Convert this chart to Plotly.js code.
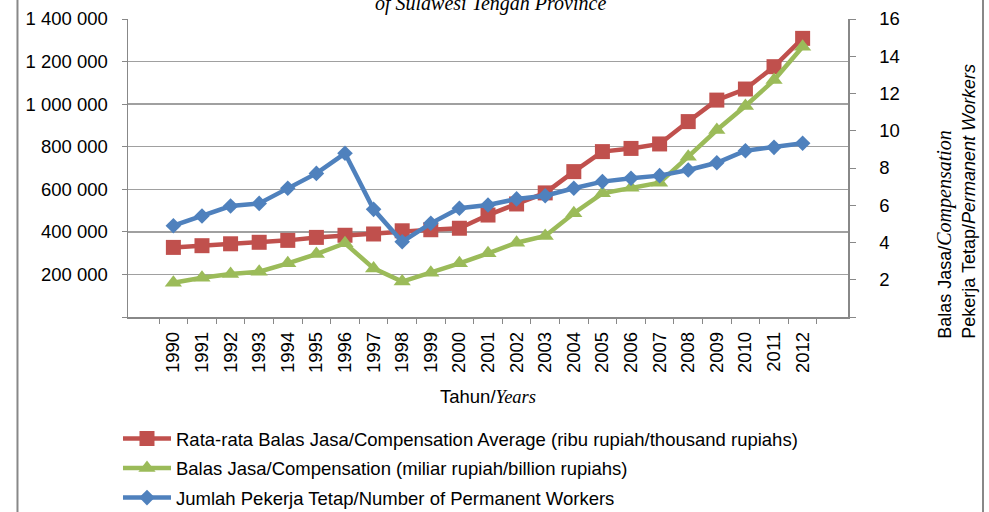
<!DOCTYPE html>
<html><head><meta charset="utf-8">
<script src="https://cdn.plot.ly/plotly-3.0.1.min.js"></script>
<style>html,body{margin:0;padding:0;background:#fff}#chart{width:989px;height:512px}</style>
</head><body><div id="chart"></div>
<script>
const years = ['1990','1991','1992','1993','1994','1995','1996','1997','1998','1999','2000','2001','2002','2003','2004','2005','2006','2007','2008','2009','2010','2011','2012'];
// Rata-rata Balas Jasa (ribu rupiah) - left axis
const avgComp = [327000,335000,344000,351000,360000,374000,384000,390000,405000,410000,417000,479000,531000,583000,683000,777000,792000,813000,918000,1019000,1071000,1176000,1309000];
// Balas Jasa (miliar rupiah) - right axis
const totalComp = [1.84,2.11,2.31,2.43,2.88,3.38,3.96,2.61,1.90,2.38,2.88,3.42,3.99,4.35,5.57,6.64,6.94,7.21,8.61,10.04,11.33,12.72,14.51];
// Jumlah Pekerja Tetap - right axis
const workers = [4.90,5.42,5.96,6.10,6.91,7.71,8.79,5.78,4.04,5.03,5.84,6.01,6.34,6.51,6.91,7.27,7.45,7.59,7.89,8.28,8.93,9.11,9.33];

const leftTickVals = [0,200000,400000,600000,800000,1000000,1200000,1400000];
const leftTickText = ['','200 000','400 000','600 000','800 000','1 000 000','1 200 000','1 400 000'];
const rightTickVals = [0,2,4,6,8,10,12,14,16];
const rightTickText = ['','2','4','6','8','10','12','14','16'];

const names = [
  'Rata-rata Balas Jasa/Compensation Average (ribu rupiah/thousand rupiahs)',
  'Balas Jasa/Compensation (miliar rupiah/billion rupiahs)',
  'Jumlah Pekerja Tetap/Number of Permanent Workers'
];

const SANS = 'Liberation Sans, Arial, sans-serif';
const SERIF = 'Liberation Serif, Times New Roman, serif';
const FS = 18.5;

const traces = [
  {x: years, y: avgComp, name: names[0], type: 'scatter', mode: 'lines+markers', yaxis: 'y', legendgroup: 'a',
   line: {color: '#C0504D', width: 4.5}, marker: {symbol: 'square', size: 15, color: '#C0504D'}},
  {x: years, y: totalComp, name: names[1], type: 'scatter', mode: 'lines+markers', yaxis: 'y2', legendgroup: 'b',
   line: {color: '#9BBB59', width: 4.5}, marker: {symbol: 'triangle-up', size: 15, color: '#9BBB59'}},
  {x: years, y: workers, name: names[2], type: 'scatter', mode: 'lines+markers', yaxis: 'y2', legendgroup: 'c',
   line: {color: '#4F81BD', width: 4.5}, marker: {symbol: 'diamond', size: 12, color: '#4F81BD'}}
];

const layout = {
  width: 989, height: 512,
  margin: {l: 128, r: 141, t: 19, b: 195, autoexpand: false},
  paper_bgcolor: '#fff', plot_bgcolor: '#fff',
  font: {family: SANS, size: FS, color: '#000'},
  showlegend: true,
  legend: {x: -0.0139, xanchor: 'left', y: -0.3456, yanchor: 'top', orientation: 'v',
           font: {family: SANS, size: FS, color: '#000'}, itemwidth: 48, tracegroupgap: 2.5,
           bgcolor: 'rgba(0,0,0,0)'},
  xaxis: {type: 'category', tickson: 'boundaries', ticks: 'outside', ticklen: 5, tickcolor: '#888',
          tickangle: -90, showline: true, linecolor: '#888', linewidth: 1.5, showgrid: false,
          ticklabelstandoff: 6, tickfont: {family: SANS, size: FS},
          title: {text: 'Tahun/<span style="font-family:Liberation Serif;font-style:italic">Years</span>', font: {family: SANS, size: FS}, standoff: 18},
          fixedrange: true},
  yaxis: {range: [0, 1400000], tickvals: leftTickVals, ticktext: leftTickText, ticks: 'outside', ticklen: 5,
          tickcolor: '#888', showline: true, linecolor: '#888', linewidth: 1.5, showgrid: true,
          gridcolor: '#a0a0a0', gridwidth: 1.3, zeroline: false, ticklabelstandoff: 10,
          tickfont: {family: SANS, size: FS}, fixedrange: true},
  yaxis2: {range: [0, 16], overlaying: 'y', side: 'right', tickvals: rightTickVals, ticktext: rightTickText,
           ticks: 'outside', ticklen: 6, tickcolor: '#888', showline: true, linecolor: '#888', linewidth: 1.5,
           showgrid: false, zeroline: false, ticklabelstandoff: 20, tickfont: {family: SANS, size: FS}, fixedrange: true},
  annotations: [
    {xref: 'paper', yref: 'paper', x: 0.503, y: 1.052, xanchor: 'center', yanchor: 'middle', showarrow: false,
     text: '<i>of Sulawesi Tengah Province</i>', font: {family: SERIF, size: 20, color: '#000'}},
    {xref: 'paper', yref: 'paper', x: 1.15, y: 0.39, xanchor: 'center', yanchor: 'middle', showarrow: false,
     textangle: -90, align: 'left',
     text: 'Balas Jasa/<span style="font-family:Liberation Serif;font-style:italic;font-size:20px">Compensation</span><br>Pekerja Tetap/<i>Permanent Workers</i>',
     font: {family: SANS, size: 18, color: '#000'}}
  ],
  shapes: [
    {type: 'line', xref: 'paper', yref: 'paper', x0: -0.1535, x1: -0.1535, y0: -0.7, y1: 1.07, line: {color: '#888', width: 2}},
    {type: 'line', xref: 'paper', yref: 'paper', x0: 1.1875, x1: 1.1875, y0: -0.7, y1: 1.07, line: {color: '#888', width: 2}}
  ]
};

Plotly.newPlot('chart', traces, layout, {displayModeBar: false, staticPlot: true});
</script>
</body></html>
